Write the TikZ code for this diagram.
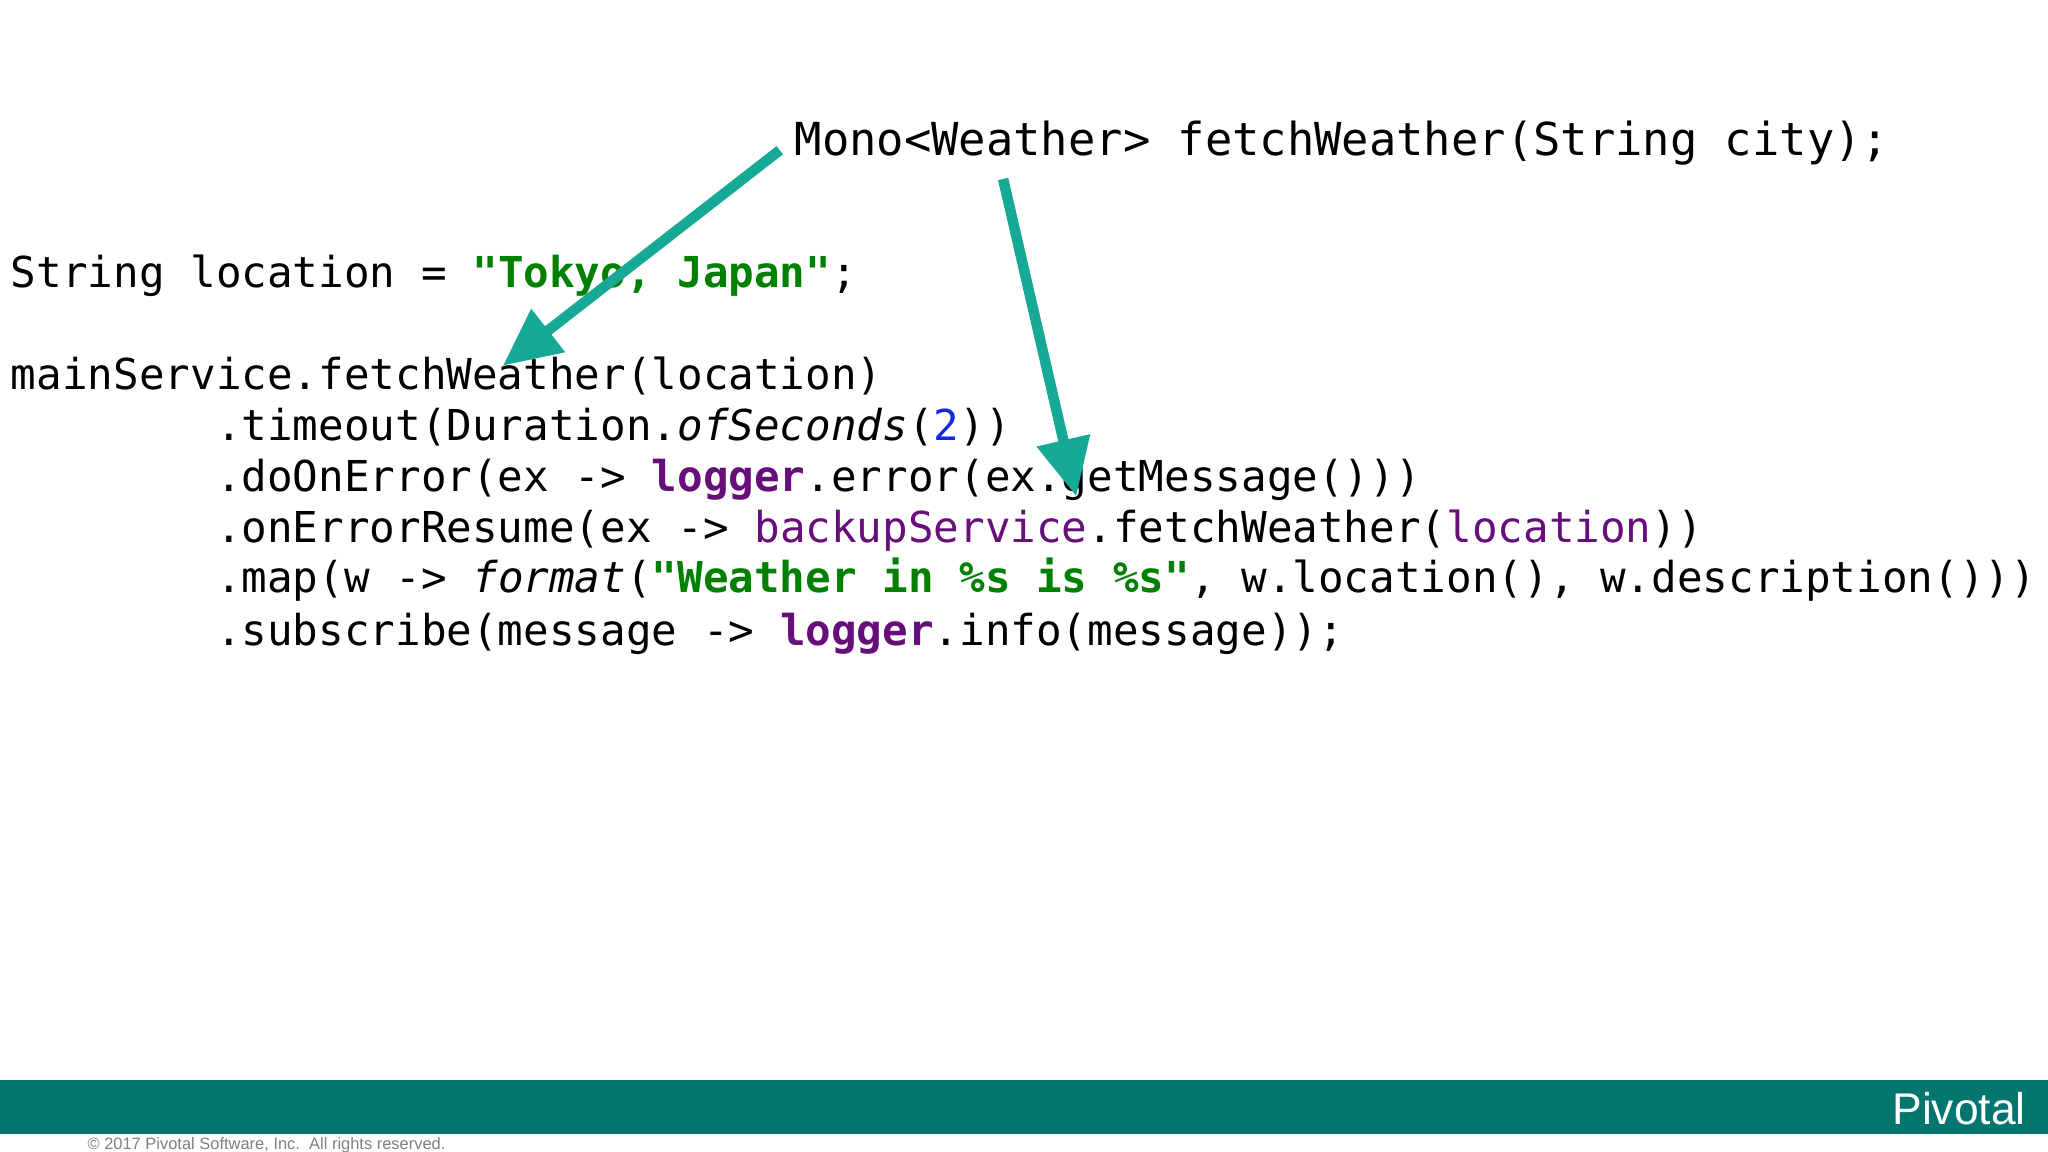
\documentclass[tikz,border=0pt]{standalone}
\usepackage{fontspec}
\setmonofont{DejaVu Sans Mono}
\setsansfont{Liberation Sans}
\usetikzlibrary{arrows.meta}
\definecolor{jgreen}{RGB}{0,128,0}
\definecolor{jpurple}{RGB}{102,14,122}
\definecolor{jblue}{RGB}{20,40,230}
\definecolor{teal1}{RGB}{22,170,150}
\definecolor{bar}{RGB}{0,118,110}
\tikzset{code/.style={anchor=base west,inner sep=0pt,font=\ttfamily\fontsize{16.3}{18}\selectfont},
arr/.style={teal1,line width=4pt,-{Triangle[length=22pt,width=20pt]}}}
\begin{document}
\begin{tikzpicture}[x=0.5pt,y=-0.5pt]
\useasboundingbox (0,0) rectangle (1568,882);
\fill[white] (0,0) rectangle (1568,882);
\fill[bar] (0,827) rectangle (1568,868);
\node[anchor=east,text=white,font=\sffamily\fontsize{17}{18}\selectfont] (piv) at (1558,849) {Pivotal};
\node[anchor=west,text=gray,font=\sffamily\fontsize{6.3}{7}\selectfont] (copy) at (60,877) {\textcopyright\ 2017 Pivotal Software, Inc.\ \ All rights reserved.};
\node[code,font=\ttfamily\fontsize{17.4}{19}\selectfont] (sig) at (608,119) {Mono<Weather> fetchWeather(String city);};
\node[code] (l1) at (8,220) {String location = \textcolor{jgreen}{\bfseries"Tokyo, Japan"};};
\node[code] (l2) at (8,298) {mainService.fetchWeather(location)};
\node[code] (l3) at (165,337) {.timeout(Duration.\textit{ofSeconds}(\textcolor{jblue}{2}))};
\node[code] (l4) at (165,376) {.doOnError(ex -> \textcolor{jpurple}{\bfseries logger}.error(ex.getMessage()))};
\node[code] (l5) at (165,415) {.onErrorResume(ex -> \textcolor{jpurple}{backupService}.fetchWeather(\textcolor{jpurple}{location}))};
\node[code] (l6) at (165,454) {.map(w -> \textit{format}(\textcolor{jgreen}{\bfseries"Weather in \%s is \%s"}, w.location(), w.description()))};
\node[code] (l7) at (165,494) {.subscribe(message -> \textcolor{jpurple}{\bfseries logger}.info(message));};
\coordinate (a1s) at (597,115);
\coordinate (a1e) at (385,280);
\coordinate (a2s) at (768,137);
\coordinate (a2e) at (824,380);
\draw[arr] (a1s) -- (a1e);
\draw[arr] (a2s) -- (a2e);
\end{tikzpicture}
\end{document}
